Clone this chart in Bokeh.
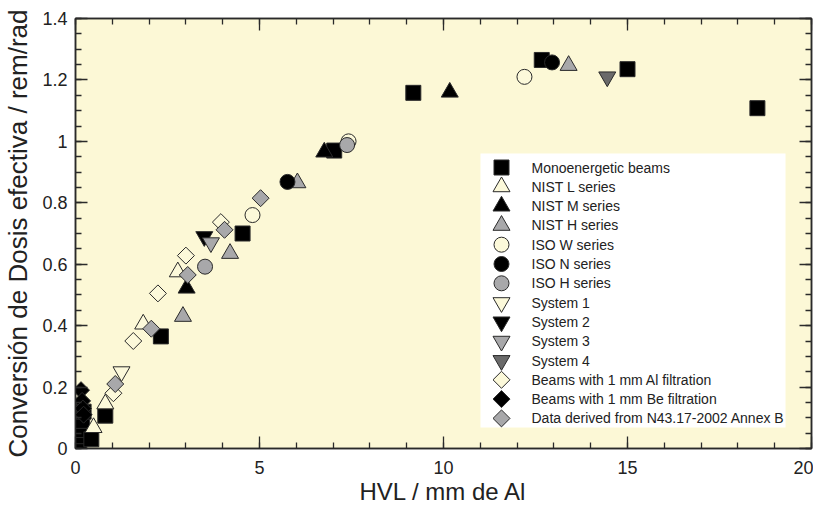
from bokeh.plotting import figure
from bokeh.models import (Range1d, LinearAxis, SingleIntervalTicker, FixedTicker,
                          CustomJSTickFormatter)
from bokeh.core.properties import value
from bokeh.embed import file_html
from bokeh.resources import INLINE
import numpy as np

# ---- data (HVL mm Al, conversion rem/rad) ----
mono_x = [0.08, 0.10, 0.12, 0.15, 0.18, 0.22, 0.43, 0.81, 2.32, 4.54, 7.03, 9.18, 12.67, 15.0, 18.53]
mono_y = [0.005, 0.02, 0.04, 0.06, 0.09, 0.12, 0.03, 0.107, 0.365, 0.70, 0.97, 1.158, 1.265, 1.235, 1.108]
nistl_x = [0.49, 0.81, 1.84, 2.78]
nistl_y = [0.068, 0.145, 0.405, 0.575]
nistm_x = [3.02, 6.76, 10.17]
nistm_y = [0.522, 0.965, 1.16]
nisth_x = [2.92, 4.2, 6.03, 13.4]
nisth_y = [0.43, 0.635, 0.865, 1.247]
isow_x = [4.81, 7.42, 12.2]
isow_y = [0.76, 1.0, 1.21]
ison_x = [5.76, 12.95]
ison_y = [0.868, 1.257]
isoh_x = [3.52, 7.38]
isoh_y = [0.592, 0.988]
sys1_x = [1.25]
sys1_y = [0.25]
sys2_x = [3.5]
sys2_y = [0.69]
sys3_x = [3.68]
sys3_y = [0.67]
sys4_x = [14.45]
sys4_y = [1.21]
al_x = [1.03, 1.57, 2.24, 3.0, 3.95]
al_y = [0.18, 0.35, 0.505, 0.628, 0.737]
be_x = [0.15, 0.18, 0.20, 0.22]
be_y = [0.19, 0.155, 0.13, 0.11]
n43_x = [1.08, 2.06, 3.05, 4.05, 5.03]
n43_y = [0.21, 0.39, 0.565, 0.712, 0.815]

labels = ["Monoenergetic beams", "NIST L series", "NIST M series", "NIST H series",
          "ISO W series", "ISO N series", "ISO H series", "System 1", "System 2",
          "System 3", "System 4", "Beams with 1 mm Al filtration",
          "Beams with 1 mm Be filtration", "Data derived from N43.17-2002 Annex B"]

y_ticks = [0, 0.2, 0.4, 0.6, 0.8, 1.0, 1.2, 1.4]
y_tick_labels = ["0", "0.2", "0.4", "0.6", "0.8", "1", "1.2", "1.4"]

# ---- styles ----
BG = "#FCF8D6"
CREAM = "#FCF9DA"
GRAY = "#A8A8AA"
DGRAY = "#6A6A6A"
BLACK = "#000000"
EDGE = "#2a2a2a"
FONT = "Liberation Sans"
FW, FH = 736, 430   # frame size in px

p = figure(width=807, height=492, output_backend="svg", toolbar_location=None,
           x_range=Range1d(0, 20), y_range=Range1d(0, 1.4),
           x_axis_location=None, y_axis_location=None,
           min_border_left=0, min_border_right=0, min_border_top=0, min_border_bottom=0,
           background_fill_color=BG, border_fill_color="white",
           outline_line_color=EDGE, outline_line_width=1.5)
p.grid.visible = False
p.extra_x_ranges = {"px": Range1d(0, FW)}
p.extra_y_ranges = {"px": Range1d(0, FH)}

minor_y = [round(v, 2) for v in np.arange(0, 1.401, 0.05)]
blank = CustomJSTickFormatter(code="return ''")

bottom = LinearAxis(ticker=SingleIntervalTicker(interval=5, num_minor_ticks=5))
left = LinearAxis(ticker=FixedTicker(ticks=y_ticks, minor_ticks=minor_y))
left.major_label_overrides = {float(t): l for t, l in zip(y_ticks, y_tick_labels)}
top = LinearAxis(ticker=SingleIntervalTicker(interval=5, num_minor_ticks=5), formatter=blank)
right = LinearAxis(ticker=FixedTicker(ticks=y_ticks, minor_ticks=minor_y), formatter=blank)
p.add_layout(bottom, "below")
p.add_layout(left, "left")
p.add_layout(top, "above")
p.add_layout(right, "right")

for ax in [bottom, left, top, right]:
    ax.major_tick_in = 12
    ax.major_tick_out = 0
    ax.minor_tick_in = 6
    ax.minor_tick_out = 0
    ax.major_tick_line_color = EDGE
    ax.minor_tick_line_color = EDGE
    ax.major_tick_line_width = 1.3
    ax.minor_tick_line_width = 1.3
    ax.axis_line_color = EDGE
    ax.axis_line_width = 1.5
    ax.major_label_text_font = FONT
    ax.major_label_text_font_size = "18px"
    ax.major_label_text_color = "#222222"
    ax.axis_label_text_font = FONT
    ax.axis_label_text_font_style = "normal"
    ax.axis_label_text_color = "#222222"

for ax in [top, right]:
    ax.major_label_standoff = 0

bottom.major_label_standoff = 12
left.major_label_standoff = 8
bottom.axis_label = "HVL / mm de Al"
left.axis_label = "Conversión de Dosis efectiva / rem/rad"
bottom.axis_label_text_font_size = "24px"
left.axis_label_text_font_size = "26px"
bottom.axis_label_standoff = 1
left.axis_label_standoff = 6

series = [
    (mono_x, mono_y, "square", BLACK, 15, 0),
    (nistl_x, nistl_y, "triangle", CREAM, 17, 0),
    (nistm_x, nistm_y, "triangle", BLACK, 17, 0),
    (nisth_x, nisth_y, "triangle", GRAY, 17, 0),
    (isow_x, isow_y, "circle", CREAM, 15, 0),
    (ison_x, ison_y, "circle", BLACK, 15, 0),
    (isoh_x, isoh_y, "circle", GRAY, 15, 0),
    (sys1_x, sys1_y, "inverted_triangle", CREAM, 17, 0),
    (sys2_x, sys2_y, "inverted_triangle", BLACK, 17, 0),
    (sys3_x, sys3_y, "inverted_triangle", GRAY, 17, 0),
    (sys4_x, sys4_y, "inverted_triangle", DGRAY, 17, 0),
    (al_x, al_y, "square", CREAM, 12, np.pi / 4),
    (be_x, be_y, "square", BLACK, 12, np.pi / 4),
    (n43_x, n43_y, "square", GRAY, 12, np.pi / 4),
]

for (xs, ys, mk, fc, sz, ang) in series:
    p.scatter(xs, ys, marker=mk, size=sz, angle=ang, fill_color=fc,
              line_color=EDGE, line_width=1)

# ---- legend (box in frame pixel space) ----
LX0, LX1, LY0, LY1 = 405, 710, 21, 295
ROW0, STEP, GX, TX = 281, 19.3, 426, 456
p.quad(left=[LX0], right=[LX1], bottom=[LY0], top=[LY1], fill_color="white",
       line_color=None, x_range_name="px", y_range_name="px")
n = len(labels)
ly = [ROW0 - STEP * i for i in range(n)]
p.scatter(x=[GX] * n, y=ly, marker=[s[2] for s in series],
          size=[s[4] for s in series], angle=[s[5] for s in series],
          fill_color=[s[3] for s in series], line_color=EDGE, line_width=1,
          x_range_name="px", y_range_name="px")
p.text(x=[TX] * n, y=ly, text=labels, text_baseline="middle", text_align="left",
       text_font=value(FONT), text_font_size="14px", text_color="#222222",
       x_range_name="px", y_range_name="px")

p.frame_width = FW
p.frame_height = FH
p.min_border_top = 18
p.min_border_right = 2
p.min_border_left = 69

open("out.html", "w").write(file_html(p, INLINE))
